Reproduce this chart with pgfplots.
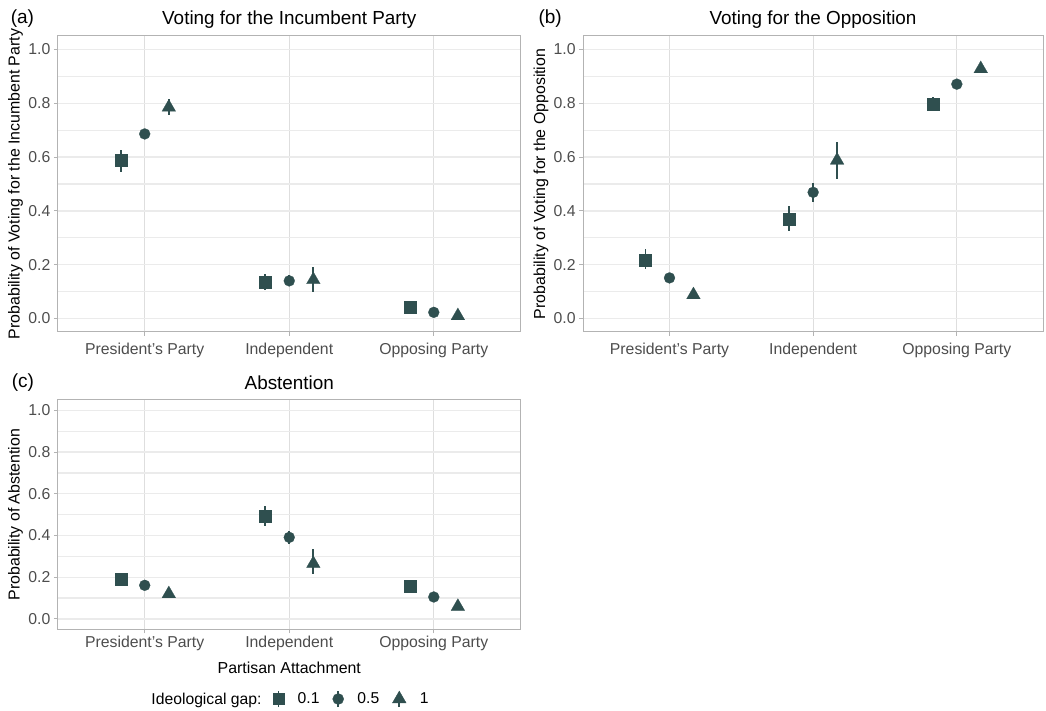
\documentclass[border=0pt]{standalone}
\usepackage{pgfplots}
\pgfplotsset{compat=1.18}
\usepackage{pgfplotstable}
\usepackage{fontspec}
\setmainfont{Liberation Sans}
\definecolor{dsg}{HTML}{2F4F4F}
\definecolor{tickgrey}{HTML}{4D4D4D}
\definecolor{bordergrey}{HTML}{B3B3B3}
\definecolor{hgrid}{HTML}{EBEBEB}
\definecolor{vgrid}{HTML}{DEDEDE}

% Panel (a): Voting for the Incumbent Party
\pgfplotstableread{
x y lo hi
0.8333 0.587 0.544 0.628
1.8333 0.134 0.105 0.166
2.8333 0.041 0.030 0.052
}\aSq
\pgfplotstableread{
x y lo hi
1 0.686 0.670 0.702
2 0.140 0.120 0.160
3 0.023 0.015 0.031
}\aCi
\pgfplotstableread{
x y lo hi
1.1667 0.785 0.756 0.815
2.1667 0.144 0.099 0.191
3.1667 0.010 0.004 0.018
}\aTr

% Panel (b): Voting for the Opposition
\pgfplotstableread{
x y lo hi
0.8333 0.219 0.183 0.259
1.8333 0.369 0.325 0.419
2.8333 0.798 0.772 0.822
}\bSq
\pgfplotstableread{
x y lo hi
1 0.151 0.137 0.165
2 0.469 0.433 0.505
3 0.871 0.857 0.885
}\bCi
\pgfplotstableread{
x y lo hi
1.1667 0.088 0.078 0.100
2.1667 0.588 0.518 0.656
3.1667 0.928 0.918 0.940
}\bTr

% Panel (c): Abstention
\pgfplotstableread{
x y lo hi
0.8333 0.193 0.166 0.218
1.8333 0.494 0.447 0.542
2.8333 0.158 0.142 0.175
}\cSq
\pgfplotstableread{
x y lo hi
1 0.161 0.147 0.175
2 0.391 0.359 0.423
3 0.105 0.091 0.119
}\cCi
\pgfplotstableread{
x y lo hi
1.1667 0.120 0.110 0.131
2.1667 0.265 0.214 0.333
3.1667 0.059 0.050 0.069
}\cTr

\pgfplotsset{
  panel/.style={
    scale only axis,
    xmin=0.4, xmax=3.6, ymin=-0.05, ymax=1.05,
    xtick={1,2,3},
    xticklabels={President's Party, Independent, Opposing Party},
    ytick={0,0.2,0.4,0.6,0.8,1},
    minor ytick={0.1,0.3,0.5,0.7,0.9},
    xmajorgrids, ymajorgrids, yminorgrids,
    major x grid style={vgrid, line width=0.8pt},
    major y grid style={hgrid, line width=1.3pt},
    minor y grid style={hgrid, line width=1.3pt},
    axis line style={bordergrey, line width=1pt},
    tick style={bordergrey, line width=1pt},
    major tick length=4pt, minor tick length=0pt,
    tick align=outside, xtick pos=bottom, ytick pos=left,
    /pgf/number format/assume math mode=true,
    ticklabel style={font=\fontsize{15.8}{18}\selectfont, text=tickgrey, inner sep=0pt},
    yticklabel style={anchor=east, xshift=-3.5pt,
      /pgf/number format/fixed, /pgf/number format/fixed zerofill,
      /pgf/number format/precision=1},
    xticklabel style={anchor=base},
    label style={font=\fontsize{15.9}{18}\selectfont, text=black},
    ylabel style={at={(axis description cs:-0.092,0.5)}, anchor=center},
  },
  errs/.style={error bars/y dir=both, error bars/y explicit, error bars/error mark=none,
    error bars/error bar style={line width=1.8pt, dsg}},
  sq/.style={only marks, mark=square*, mark size=6pt, color=dsg,
    mark options={fill=dsg, draw=dsg, line width=0.2pt}, errs},
  ci/.style={only marks, mark=*, mark size=5.5pt, color=dsg,
    mark options={fill=dsg, draw=dsg, line width=0.2pt}, errs},
  tr/.style={only marks, mark=triangle*, mark size=7.9pt, color=dsg,
    mark options={fill=dsg, draw=dsg, line width=0.2pt}, errs},
}

\begin{document}
\begin{tikzpicture}
\useasboundingbox (0,0) rectangle (1046pt,711pt);

% ---------- (a)
\begin{axis}[panel, at={(58pt,379pt)}, anchor=south west,
  width=462.5pt, height=296pt,
  xticklabel style={yshift=-19pt},
  ylabel={Probability of Voting for the Incumbent Party}]
\addplot[sq] table[x=x, y=y, y error plus expr=\thisrow{hi}-\thisrow{y}, y error minus expr=\thisrow{y}-\thisrow{lo}] {\aSq};
\addplot[ci] table[x=x, y=y, y error plus expr=\thisrow{hi}-\thisrow{y}, y error minus expr=\thisrow{y}-\thisrow{lo}] {\aCi};
\addplot[tr] table[x=x, y=y, y error plus expr=\thisrow{hi}-\thisrow{y}, y error minus expr=\thisrow{y}-\thisrow{lo}] {\aTr};
\end{axis}
\node[anchor=base west, font=\fontsize{19}{22}\selectfont] at (7.3pt,687.5pt) {(a)};
\node[anchor=base, font=\fontsize{18.9}{22}\selectfont] at (289.3pt,686pt) {Voting for the Incumbent Party};

% ---------- (b)
\begin{axis}[panel, at={(583.3pt,379pt)}, anchor=south west,
  width=459.7pt, height=296pt,
  xticklabel style={yshift=-19pt},
  ylabel={Probability of Voting for the Opposition}]
\addplot[sq] table[x=x, y=y, y error plus expr=\thisrow{hi}-\thisrow{y}, y error minus expr=\thisrow{y}-\thisrow{lo}] {\bSq};
\addplot[ci] table[x=x, y=y, y error plus expr=\thisrow{hi}-\thisrow{y}, y error minus expr=\thisrow{y}-\thisrow{lo}] {\bCi};
\addplot[tr] table[x=x, y=y, y error plus expr=\thisrow{hi}-\thisrow{y}, y error minus expr=\thisrow{y}-\thisrow{lo}] {\bTr};
\end{axis}
\node[anchor=base west, font=\fontsize{19}{22}\selectfont] at (535pt,687.5pt) {(b)};
\node[anchor=base, font=\fontsize{18.9}{22}\selectfont] at (813pt,686pt) {Voting for the Opposition};

% ---------- (c)
\begin{axis}[panel, at={(58pt,81.7pt)}, anchor=south west,
  width=462.5pt, height=229.3pt,
  xticklabel style={yshift=-14pt},
  ylabel={Probability of Abstention},
  legend style={at={(axis description cs:0.4644,-0.304)}, anchor=west,
    draw=none, fill=none, inner sep=0pt, outer sep=0pt,
    font=\fontsize{15.7}{18}\selectfont, text=black,
    legend columns=-1,
    /tikz/every odd column/.append style={column sep=11.5pt},
    /tikz/every even column/.append style={column sep=11pt}},
  ]
\addplot[forget plot, sq] table[x=x, y=y, y error plus expr=\thisrow{hi}-\thisrow{y}, y error minus expr=\thisrow{y}-\thisrow{lo}] {\cSq};
\addplot[forget plot, ci] table[x=x, y=y, y error plus expr=\thisrow{hi}-\thisrow{y}, y error minus expr=\thisrow{y}-\thisrow{lo}] {\cCi};
\addplot[forget plot, tr] table[x=x, y=y, y error plus expr=\thisrow{hi}-\thisrow{y}, y error minus expr=\thisrow{y}-\thisrow{lo}] {\cTr};
\addlegendimage{legend image code/.code={
  \draw[dsg, line width=1.8pt] (0pt,-8pt) -- (0pt,8pt);
  \fill[dsg] (-5.5pt,-5.5pt) rectangle (5.5pt,5.5pt);}}
\addlegendentry{0.1}
\addlegendimage{legend image code/.code={
  \draw[dsg, line width=1.8pt] (0pt,-8pt) -- (0pt,8pt);
  \fill[dsg] (0pt,0pt) circle (5.5pt);}}
\addlegendentry{0.5}
\addlegendimage{legend image code/.code={
  \draw[dsg, line width=1.8pt] (0pt,-8pt) -- (0pt,4pt);
  \fill[dsg] (90:7.9pt) -- (210:7.9pt) -- (330:7.9pt) -- cycle;}}
\addlegendentry{1}
\end{axis}
\node[anchor=base west, font=\fontsize{19}{22}\selectfont] at (8.3pt,323pt) {(c)};
\node[anchor=base, font=\fontsize{18.9}{22}\selectfont] at (289.3pt,321.7pt) {Abstention};
\node[anchor=base, font=\fontsize{15.9}{18}\selectfont] at (289.3pt,37.7pt) {Partisan Attachment};
\node[anchor=base east, font=\fontsize{15.7}{18}\selectfont] at (265pt,6pt) {Ideological gap:};
\end{tikzpicture}
\end{document}
